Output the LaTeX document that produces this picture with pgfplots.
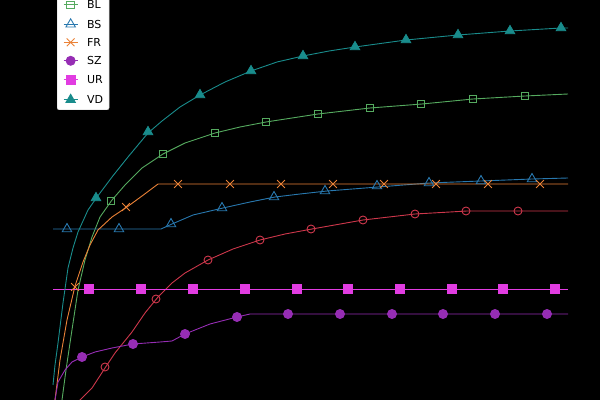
\documentclass[border=0pt]{standalone}
\usepackage{fontspec}
\setmainfont{DejaVu Sans}
\usepackage{pgfplots}
\pgfplotsset{compat=1.18}

\definecolor{agc}{HTML}{CD374B}
\definecolor{blc}{HTML}{55AA5F}
\definecolor{bsc}{HTML}{2878AF}
\definecolor{frc}{HTML}{EB8237}
\definecolor{szc}{HTML}{962DB4}
\definecolor{urc}{HTML}{E13CE1}
\definecolor{vdc}{HTML}{198C8C}

\begin{document}
\begin{tikzpicture}
\fill[black] (0,0) rectangle (600bp,400bp);
\begin{axis}[
  at={(0,0)}, anchor=south west,
  scale only axis, width=600bp, height=400bp,
  xmin=0, xmax=600, ymin=0, ymax=400,
  hide axis, clip=true,
  every axis plot/.append style={line width=0.9bp},
  legend image code/.code={
    \draw[mark repeat=2,mark phase=2,#1] plot coordinates {(0bp,0bp) (7bp,0bp) (14bp,0bp)};},
  legend cell align=left,
  legend style={
    at={(0.095,0.725)}, anchor=south west,
    fill=white, draw=gray!40, rounded corners=2bp,
    font=\fontsize{11bp}{13bp}\selectfont,
    inner xsep=6bp, inner ysep=6bp,
    nodes={inner sep=0bp, text height=8bp, text depth=0bp},
    row sep=10bp,
    /tikz/every odd column/.append style={column sep=9bp},
  },
]
% lines
\addplot[agc, forget plot] coordinates {(70,-12) (80,0) (92,12) (105,32) (115,47) (132,68) (145,87) (158,103) (172,117) (185,127) (208,140) (233,151) (260,160) (285,166) (312,171) (363,180) (415,186) (450,188) (467,189) (568,189)};
\addplot[blc, forget plot] coordinates {(59,-30) (62,0) (66,30) (70,57) (78,110) (85,140) (92,163) (100,183) (112,200) (125,215) (142,232) (163,246) (185,257) (215,267) (240,273) (266,278) (318,286) (370,292) (422,296) (473,301) (525,304) (568,306)};
\addplot[bsc, forget plot] coordinates {(53,171) (161,171) (172,176) (193,185) (223,192) (250,198) (275,203) (300,206) (327,209) (378,213) (429,217) (481,219) (532,221) (568,222)};
\addplot[frc, forget plot] coordinates {(53,-15) (55,0) (60,40) (67,80) (75,114) (83,138) (90,155) (98,170) (112,183) (127,193) (142,204) (158,216) (568,216)};
\addplot[szc, forget plot] coordinates {(53,-10) (55,0) (58,18) (65,30) (72,38) (82,43) (95,48) (112,52) (133,56) (160,58) (172,59) (185,66) (210,76) (237,83) (250,86) (568,86)};
\addplot[urc, forget plot] coordinates {(53,111) (568,111)};
\addplot[vdc, forget plot] coordinates {(53,15) (55,35) (58,57) (63,97) (68,132) (73,152) (78,168) (88,190) (97,203) (112,223) (128,243) (148,267) (162,279) (180,293) (200,305) (225,318) (251,329) (277,338) (303,344) (329,349) (355,353) (406,360) (458,365) (510,369) (561,372) (568,372)};
% marks
\addplot[agc, only marks, mark=o, mark size=4bp, forget plot] coordinates {(105,33) (156,101) (208,140) (260,160) (311,171) (363,180) (415,186) (466,189) (518,189)};
\addplot[blc, only marks, mark=square, mark size=3.8bp, forget plot] coordinates {(111,199) (163,246) (215,267) (266,278) (318,286) (370,292) (421,296) (473,301) (525,304)};
\addplot[bsc, only marks, mark=triangle, mark size=5.5bp, forget plot] coordinates {(67,171) (119,171) (171,176) (222,192) (274,203) (325,209) (377,214) (429,217) (481,219) (532,221)};
\addplot[frc, only marks, mark=x, mark size=5.5bp, forget plot] coordinates {(75,113) (126,193) (178,216) (230,216) (281,216) (333,216) (384,216) (436,216) (488,216) (540,216)};
\addplot[szc, only marks, mark=*, mark size=4.5bp, forget plot] coordinates {(82,43) (133,56) (185,66) (237,83) (288,86) (340,86) (392,86) (443,86) (495,86) (547,86)};
\addplot[urc, only marks, mark=square*, mark size=4.5bp, forget plot] coordinates {(89,111) (141,111) (193,111) (245,111) (297,111) (348,111) (400,111) (452,111) (503,111) (555,111)};
\addplot[vdc, only marks, mark=triangle*, mark size=5.5bp, forget plot] coordinates {(96,202) (148,268) (200,305) (251,329) (303,344) (355,353) (406,360) (458,365) (510,369) (561,372)};
% legend
\addlegendimage{agc, line width=0.9bp, mark=o, mark size=4bp}
\addlegendentry{AG}
\addlegendimage{blc, line width=0.9bp, mark=square, mark size=3.8bp}
\addlegendentry{BL}
\addlegendimage{bsc, line width=0.9bp, mark=triangle, mark size=5.5bp}
\addlegendentry{BS}
\addlegendimage{frc, line width=0.9bp, mark=x, mark size=5.5bp}
\addlegendentry{FR}
\addlegendimage{szc, line width=0.9bp, mark=*, mark size=4.5bp}
\addlegendentry{SZ}
\addlegendimage{urc, line width=0.9bp, mark=square*, mark size=4.5bp}
\addlegendentry{UR}
\addlegendimage{vdc, line width=0.9bp, mark=triangle*, mark size=5.5bp}
\addlegendentry{VD}
\end{axis}
\pgfresetboundingbox
\path[use as bounding box] (0,0) rectangle (600bp,400bp);
\end{tikzpicture}
\end{document}
